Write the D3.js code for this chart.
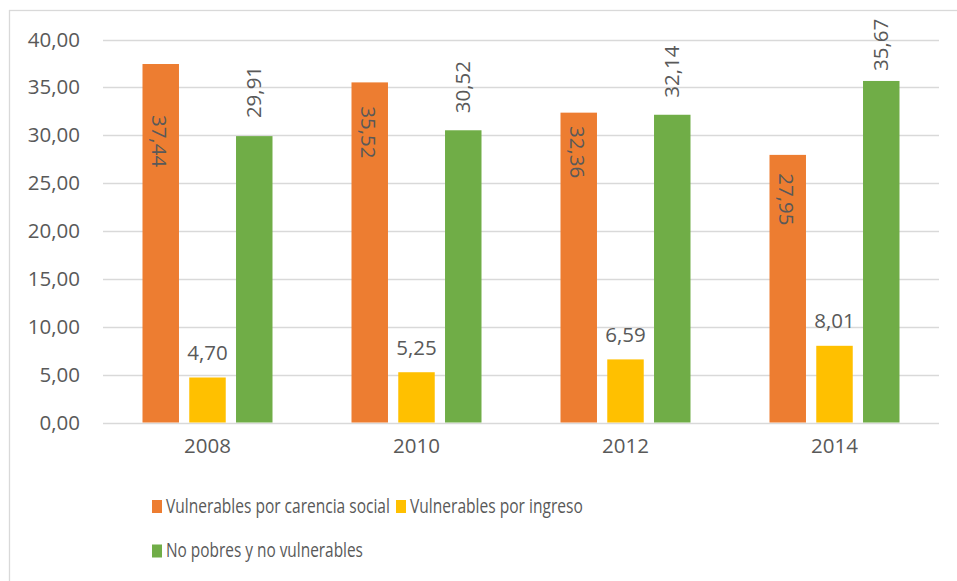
<!DOCTYPE html>
<html>
<head>
<meta charset="utf-8">
<script src="https://cdn.jsdelivr.net/npm/d3@7/dist/d3.min.js"></script>
<style>
  html, body { margin: 0; padding: 0; background: #fff; }
  svg { display: block; }
  text { font-family: "Open Sans", "Noto Sans", sans-serif; fill: #595959; }
</style>
</head>
<body>
<svg id="chart" width="957" height="581"></svg>
<script>
// ---- data ----
const years = ["2008", "2010", "2012", "2014"];
const seriesNames = ["Vulnerables por carencia social", "Vulnerables por ingreso", "No pobres y no vulnerables"];
const carenciaSocial = [37.44, 35.52, 32.36, 27.95];
const porIngreso = [4.70, 5.25, 6.59, 8.01];
const noPobres = [29.91, 30.52, 32.14, 35.67];
const yTicks = [0, 5, 10, 15, 20, 25, 30, 35, 40];

// ---- layout / style ----
const colors = ["#ED7D31", "#FFC000", "#70AD47"];
const plot = { left: 103, right: 939, top: 39.5, bottom: 422.5 };
const fontSize = 20.5;
const fontFamily = '"Open Sans", "Noto Sans", sans-serif';
// manual label placement (as in the original, labels were nudged by hand)
const orangeLabelDrop = [77, 50, 39.5, 44.5];   // px from bar top to label centre
const greenLabelGap = [18, 17, 17, 10];         // px between bar top and label end
const yellowLabelGap = 17.5;

const fmt = v => v.toFixed(2).replace(".", ",");
const series = [carenciaSocial, porIngreso, noPobres];

const svg = d3.select("#chart");

// chart border
svg.append("rect")
  .attr("x", 9.5).attr("y", 10.5)
  .attr("width", 1000).attr("height", 1000)
  .attr("fill", "none").attr("stroke", "#D9D9D9").attr("stroke-width", 1.3);

const x = d3.scaleBand().domain(years).range([plot.left, plot.right]).padding(0);
const y = d3.scaleLinear().domain([0, 40]).range([plot.bottom, plot.top]);
const groupW = 130;
const x1 = d3.scaleBand().domain(d3.range(3)).range([-groupW / 2, groupW / 2]).paddingInner(0.22).paddingOuter(0);

// gridlines
svg.append("g").selectAll("line").data(yTicks).join("line")
  .attr("x1", plot.left).attr("x2", plot.right)
  .attr("y1", d => Math.round(y(d)) + 0.5).attr("y2", d => Math.round(y(d)) + 0.5)
  .attr("stroke", "#D9D9D9").attr("stroke-width", 1.4);

// y axis labels via d3 axis
const yAxis = svg.append("g").attr("transform", `translate(${plot.left},0)`)
  .call(d3.axisLeft(y).tickValues(yTicks).tickFormat(fmt).tickSize(0).tickPadding(23));
yAxis.select(".domain").remove();
yAxis.selectAll("text").style("font-size", fontSize + "px").attr("fill", "#595959")
  .style("font-family", fontFamily);

// x axis labels
const xAxis = svg.append("g").attr("transform", `translate(0,${plot.bottom})`)
  .call(d3.axisBottom(x).tickSize(0).tickPadding(16));
xAxis.select(".domain").remove();
xAxis.selectAll("text").style("font-size", fontSize + "px").attr("fill", "#595959")
  .style("font-family", fontFamily);

// bars
const cx = (yi, si) => x(years[yi]) + x.bandwidth() / 2 + x1(si);
series.forEach((vals, si) => {
  svg.append("g").selectAll("rect").data(vals).join("rect")
    .attr("x", (d, i) => cx(i, si))
    .attr("y", d => y(d))
    .attr("width", x1.bandwidth())
    .attr("height", d => y(0) - y(d))
    .attr("fill", colors[si]);
});

const bw = x1.bandwidth();
// orange labels (rotated 90, inside)
svg.append("g").selectAll("text").data(carenciaSocial).join("text")
  .attr("transform", (d, i) => `translate(${cx(i, 0) + bw / 2 - 2},${y(d) + orangeLabelDrop[i]}) rotate(90)`)
  .attr("text-anchor", "middle").attr("dy", "0.35em")
  .style("font-size", fontSize + "px")
  .text(fmt);

// yellow labels (horizontal, above)
svg.append("g").selectAll("text").data(porIngreso).join("text")
  .attr("x", (d, i) => cx(i, 1) + bw / 2)
  .attr("y", d => y(d) - yellowLabelGap)
  .attr("text-anchor", "middle")
  .style("font-size", fontSize + "px")
  .text(fmt);

// green labels (rotated -90, above)
svg.append("g").selectAll("text").data(noPobres).join("text")
  .attr("transform", (d, i) => `translate(${cx(i, 2) + bw / 2},${y(d) - greenLabelGap[i]}) rotate(-90)`)
  .attr("text-anchor", "start").attr("dy", "0.35em")
  .style("font-size", fontSize + "px")
  .text(fmt);

// legend
const legendItems = [
  { name: seriesNames[0], color: colors[0], x: 152, y: 512.5, w: 224 },
  { name: seriesNames[1], color: colors[1], x: 396, y: 512.5, w: 173 },
  { name: seriesNames[2], color: colors[2], x: 152, y: 557, w: 197 }
];
const lg = svg.append("g").selectAll("g").data(legendItems).join("g")
  .attr("transform", d => `translate(${d.x},${d.y})`);
lg.append("rect").attr("x", 0).attr("y", -12.5).attr("width", 10).attr("height", 13).attr("fill", d => d.color);
lg.append("text").attr("x", 0).attr("y", 0)
  .style("font-size", fontSize + "px").text(d => d.name)
  .each(function (d) {
    const natural = this.getComputedTextLength();
    const s = d.w / natural;
    d3.select(this).attr("transform", `translate(14,0) scale(${s},1)`);
  });
</script>
</body>
</html>
